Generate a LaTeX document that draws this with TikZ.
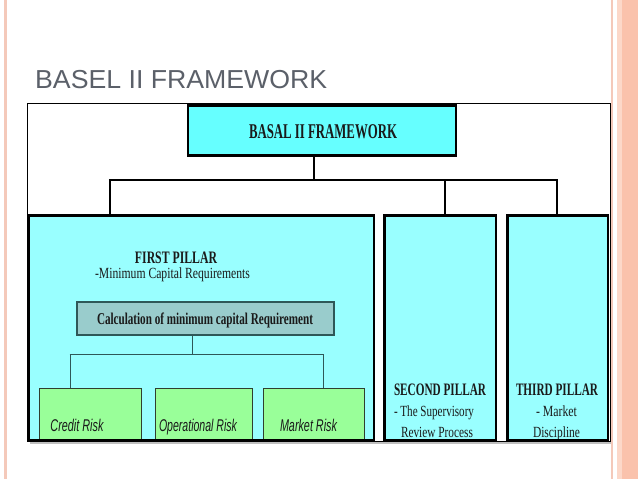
\documentclass[tikz,border=0pt]{standalone}
\usepackage{fontspec}
\setmainfont{Liberation Serif}
\newfontfamily\sansf{Liberation Sans}
\usepackage{graphicx}
\usetikzlibrary{shadows}
\newcommand\fitw[2]{\resizebox{#1}{\height}{#2}}
\definecolor{titlegray}{HTML}{5B6069}
\definecolor{topcyan}{HTML}{66FFFF}
\definecolor{pcyan}{HTML}{99FFFF}
\definecolor{calcfill}{HTML}{99CCCC}
\definecolor{calcline}{HTML}{2E5858}
\definecolor{riskgreen}{HTML}{99FF99}
\definecolor{riskline}{HTML}{2F3F2F}
\definecolor{salmon}{HTML}{F4C9BA}
\definecolor{band}{HTML}{FAC2AC}
\definecolor{bandlight}{HTML}{FCD8C9}
\definecolor{ink}{HTML}{1A1A1A}
\tikzset{
  box/.style={rectangle, inner sep=0pt, outer sep=0pt, anchor=north west},
  topbox/.style={box, fill=topcyan, draw=black, line width=2.6pt,
     drop shadow={shadow xshift=1.2pt, shadow yshift=-1.6pt, fill=black, opacity=1}},
  pillar/.style={box, fill=pcyan},
  pillarline/.style={draw=black, line width=2.6pt},
  calcbox/.style={box, fill=calcfill, draw=calcline, line width=1.3pt},
  riskbox/.style={box, fill=riskgreen, draw=riskline, line width=0.9pt},
  conn/.style={draw=black, line width=2.4pt},
  inconn/.style={draw=calcline, line width=1pt},
  txt/.style={inner sep=0pt, outer sep=0pt, anchor=base, text=ink},
  hd/.style={txt, font=\bfseries\fontsize{17.5}{17.5}\selectfont},
  sub/.style={txt, font=\fontsize{15.5}{15.5}\selectfont},
  risk/.style={txt, font=\sansf\itshape\fontsize{17}{17}\selectfont},
}
\begin{document}
\begin{tikzpicture}[x=1pt, y=-1pt]
\useasboundingbox (0,0) rectangle (638,479);
\fill[white] (0,0) rectangle (638,479);
% page decorations
\fill[salmon] (4,0) rectangle (6.5,479);
\fill[salmon] (610.8,0) rectangle (613.3,479);
\fill[bandlight] (616.7,0) rectangle (621.7,479);
\fill[band] (621.7,0) rectangle (638,479);
% title
\node[inner sep=0pt, anchor=base west, text=titlegray, font=\sansf\fontsize{26}{26}\selectfont] (title) at (35,88) {\fitw{292pt}{BASEL II FRAMEWORK}};
% frame
\fill[black!25] (30,441) rectangle (611,443.5);
\node[box, draw=black, line width=0.9pt, minimum width=583pt, minimum height=338pt, fill=white] (frame) at (27,103) {};
% top box
\node[topbox, minimum width=268pt, minimum height=50pt] (top) at (188,105.5) {};
\node[hd, font=\bfseries\fontsize{21}{21}\selectfont] (toptext) at (323,138.5) {\fitw{148pt}{BASAL II FRAMEWORK}};
% pillars (fill)
\node[pillar, minimum width=345pt, minimum height=224.5pt] (p1) at (29,215.5) {};
\node[pillar, minimum width=111.5pt, minimum height=224.5pt] (p2) at (384.5,215.5) {};
\node[pillar, minimum width=100.5pt, minimum height=224.5pt] (p3) at (507.5,215.5) {};
% connectors from top box
\coordinate (j1) at (314,180);
\coordinate (j2) at (110,180);
\coordinate (j3) at (445,180);
\coordinate (j4) at (557,180);
\draw[conn] (top.south -| j1) -- (j1);
\draw[conn] ([xshift=-1.2pt]j2) -- ([xshift=1.2pt]j4);
\draw[conn] (j2) -- (j2 |- p1.north);
\draw[conn] (j3) -- (j3 |- p2.north);
\draw[conn] (j4) -- (j4 |- p3.north);
% first pillar contents
\node[hd] (fp) at (176,263.5) {\fitw{82pt}{FIRST PILLAR}};
\node[sub, anchor=base west] (mcr) at (95,278.5) {\fitw{155pt}{-Minimum Capital Requirements}};
\node[calcbox, minimum width=257pt, minimum height=33pt] (calc) at (77,302) {};
\node[hd, font=\bfseries\fontsize{16.5}{16.5}\selectfont] (calctext) at (205,324) {\fitw{216pt}{Calculation of minimum capital Requirement}};
\coordinate (k1) at (192,354);
\coordinate (k2) at (70,354);
\coordinate (k3) at (323,354);
\node[riskbox, minimum width=102pt, minimum height=52pt] (credit) at (39,388) {};
\node[riskbox, minimum width=97pt, minimum height=52pt] (oper) at (155,388) {};
\node[riskbox, minimum width=101pt, minimum height=52pt] (market) at (263,388) {};
\draw[inconn] (calc.south -| k1) -- (k1);
\draw[inconn] ([xshift=-0.5pt]k2) -- ([xshift=0.5pt]k3);
\draw[inconn] (k2) -- (k2 |- credit.north);
\draw[inconn] (k3) -- (k3 |- market.north);
\node[risk] (credittext) at (77,431) {\fitw{53pt}{Credit Risk}};
\node[risk] (opertext) at (198,431) {\fitw{78pt}{Operational Risk}};
\node[risk] (markettext) at (308.5,431) {\fitw{57pt}{Market Risk}};
% second and third pillar texts
\node[hd] (sp) at (440,395.5) {\fitw{92pt}{SECOND PILLAR}};
\node[sub] (sp1) at (434,416.5) {\fitw{80pt}{- The Supervisory}};
\node[sub] (sp2) at (437,437.5) {\fitw{72pt}{Review Process}};
\node[hd] (tp) at (557,395.5) {\fitw{82pt}{THIRD PILLAR}};
\node[sub] (tp1) at (556.5,416.5) {\fitw{41pt}{- Market}};
\node[sub] (tp2) at (556.5,437.5) {\fitw{47pt}{Discipline}};
% pillar borders on top
\draw[pillarline] (p1.north west) rectangle (p1.south east);
\draw[pillarline] (p2.north west) rectangle (p2.south east);
\draw[pillarline] (p3.north west) rectangle (p3.south east);
\end{tikzpicture}
\end{document}
